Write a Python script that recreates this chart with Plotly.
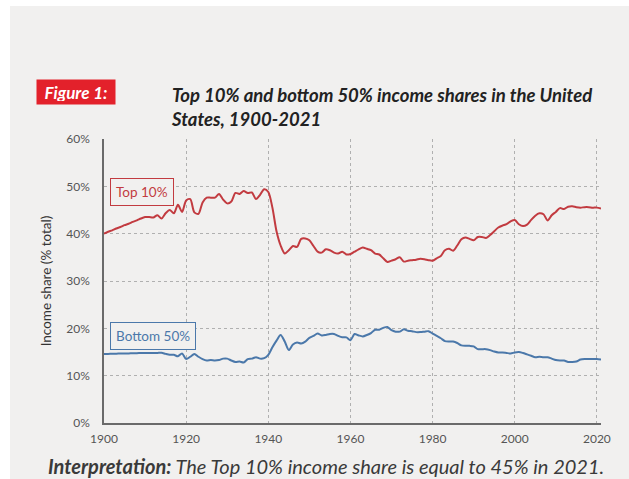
import plotly.graph_objects as go

# Income shares in the United States, 1900-2021 (% of total national income)
years = list(range(1900, 2022))

top10 = [
    40.0, 40.4, 40.7, 41.1, 41.4, 41.8, 42.1, 42.5, 42.8, 43.2,  # 1900-1909
    43.5, 43.5, 43.4, 43.9, 43.2, 44.3, 45.0, 44.3, 46.1, 44.6,  # 1910-1919
    47.0, 47.3, 44.5, 44.2, 46.6, 47.6, 47.6, 47.6, 48.4, 47.2,  # 1920-1929
    46.4, 46.8, 48.6, 48.4, 49.0, 48.6, 48.7, 47.3, 48.2, 49.4,  # 1930-1939
    48.8, 45.5, 40.5, 37.5, 35.8, 36.5, 37.4, 37.2, 38.9, 39.0,  # 1940-1949
    38.6, 37.4, 36.2, 36.0, 36.7, 36.5, 36.0, 35.8, 36.2, 35.6,  # 1950-1959
    35.7, 36.2, 36.7, 37.1, 36.8, 36.5, 35.8, 35.6, 34.8, 34.0,  # 1960-1969
    34.3, 34.6, 35.0, 34.1, 34.3, 34.4, 34.5, 34.7, 34.6, 34.4,  # 1970-1979
    34.3, 34.8, 35.3, 36.5, 36.8, 36.4, 37.5, 38.8, 39.2, 38.9,  # 1980-1989
    38.6, 39.3, 39.3, 39.1, 39.7, 40.5, 41.3, 41.7, 42.0, 42.6,  # 1990-1999
    42.9, 42.0, 41.6, 41.9, 42.9, 43.8, 44.3, 44.1, 42.8, 43.9,  # 2000-2009
    44.6, 45.4, 45.2, 45.7, 45.8, 45.6, 45.5, 45.6, 45.6, 45.5,  # 2010-2019
    45.5, 45.3,                                                  # 2020-2021
]

bottom50 = [
    14.6, 14.6, 14.65, 14.65, 14.7, 14.7, 14.7, 14.75, 14.75, 14.8,  # 1900-1909
    14.8, 14.8, 14.8, 14.8, 14.85, 14.6, 14.4, 14.4, 14.1, 14.7,     # 1910-1919
    13.5, 14.0, 14.6, 14.0, 13.5, 13.2, 13.3, 13.2, 13.3, 13.6,      # 1920-1929
    13.6, 13.2, 12.9, 13.0, 12.8, 13.5, 13.6, 13.9, 13.6, 13.7,      # 1930-1939
    14.4, 16.0, 17.4, 18.6, 17.2, 15.4, 16.6, 17.0, 16.8, 17.2,      # 1940-1949
    18.0, 18.4, 18.9, 18.5, 18.6, 18.8, 18.8, 18.4, 18.1, 18.1,      # 1950-1959
    17.5, 18.8, 18.5, 18.3, 18.6, 19.0, 19.7, 19.7, 20.1, 20.3,      # 1960-1969
    19.6, 19.3, 19.3, 19.8, 19.5, 19.4, 19.2, 19.2, 19.3, 19.4,      # 1970-1979
    18.9, 18.4, 17.9, 17.3, 17.2, 17.2, 16.9, 16.4, 16.3, 16.3,      # 1980-1989
    16.2, 15.6, 15.6, 15.6, 15.4, 15.1, 14.9, 14.9, 14.8, 14.7,      # 1990-1999
    14.9, 15.0, 14.8, 14.5, 14.2, 13.9, 14.0, 13.9, 13.9, 13.6,      # 2000-2009
    13.3, 13.2, 13.2, 12.9, 12.9, 13.0, 13.4, 13.5, 13.5, 13.5,      # 2010-2019
    13.5, 13.4,                                                      # 2020-2021
]

y_ticks = [0, 10, 20, 30, 40, 50, 60]
y_tick_labels = ["0%", "10%", "20%", "30%", "40%", "50%", "60%"]
x_ticks = [1900, 1920, 1940, 1960, 1980, 2000, 2020]

RED = "#c23b40"
BLUE = "#4b78aa"
BG = "#f1f0ef"
FONT = "Lato"

W, H = 629, 479
ML, MR, MT, MB = 104, 28, 139, 56
PW, PH = W - ML - MR, H - MT - MB


def px_x(p):
    return (p - ML) / PW


def px_y(p):
    return (H - MB - p) / PH


fig = go.Figure()

fig.add_trace(go.Scatter(
    x=years, y=top10, mode="lines", name="Top 10%",
    line=dict(color=RED, width=2, shape="spline", smoothing=0.8),
    hoverinfo="skip",
))
fig.add_trace(go.Scatter(
    x=years, y=bottom50, mode="lines", name="Bottom 50%",
    line=dict(color=BLUE, width=2, shape="spline", smoothing=0.8),
    hoverinfo="skip",
))

# Light page panel behind everything
fig.add_shape(
    type="rect", xref="paper", yref="paper", layer="below",
    x0=px_x(10), x1=px_x(W + 5), y0=px_y(H + 5), y1=px_y(6),
    fillcolor=BG, line=dict(width=0),
)

annotations = [
    # Figure tag
    dict(text="<b><i>Figure 1:</i></b>", x=px_x(76), y=px_y(92),
         font=dict(family=FONT, size=17, color="white"),
         bgcolor="#e3212b", borderpad=3, width=72, height=18),
    # Title
    dict(text="<b><i>Top 10% and bottom 50% income shares in the United<br>States, 1900-2021</i></b>",
         x=px_x(169), y=px_y(82), xanchor="left", yanchor="top", align="left",
         font=dict(family=FONT, size=18.5, color="#222222")),
    # Interpretation line
    dict(text="<b><i>Interpretation:</i></b><i> The Top 10% income share is equal to 45% in 2021.</i>",
         x=px_x(326), y=px_y(466), xanchor="center", yanchor="middle",
         font=dict(family=FONT, size=20, color="#3a3a3a")),
    # Series labels
    dict(text="Top 10%", xref="x", yref="y", x=1909.2, y=48.9,
         font=dict(family=FONT, size=13.5, color=RED),
         bordercolor=RED, borderwidth=1, borderpad=5, bgcolor=BG),
    dict(text="Bottom 50%", xref="x", yref="y", x=1912.0, y=18.4,
         font=dict(family=FONT, size=13.5, color=BLUE),
         bordercolor=BLUE, borderwidth=1, borderpad=5, bgcolor=BG),
]
for a in annotations:
    a.setdefault("xref", "paper")
    a.setdefault("yref", "paper")
    a.setdefault("showarrow", False)
    a.setdefault("xanchor", "center")
    a.setdefault("yanchor", "middle")
    fig.add_annotation(**a)

fig.update_layout(
    width=W, height=H,
    margin=dict(l=ML, r=MR, t=MT, b=MB),
    paper_bgcolor="white",
    plot_bgcolor=BG,
    showlegend=False,
    font=dict(family=FONT, color="#555555"),
)

fig.update_xaxes(
    range=[1900, 2021], tickvals=x_ticks, ticktext=[str(t) for t in x_ticks],
    showgrid=True, gridcolor="#b0b0b0", griddash="dot", gridwidth=1,
    showline=True, linecolor="#6a6a6a", linewidth=1.5,
    zeroline=False, ticks="outside", ticklen=4, tickcolor="rgba(0,0,0,0)",
    tickfont=dict(family=FONT, size=12, color="#555555"),
)
fig.update_yaxes(
    range=[0, 60], tickvals=y_ticks, ticktext=y_tick_labels,
    showgrid=True, gridcolor="#b0b0b0", griddash="dot", gridwidth=1,
    showline=True, linecolor="#6a6a6a", linewidth=1.5,
    zeroline=False, ticks="outside", ticklen=10, tickcolor="rgba(0,0,0,0)",
    tickfont=dict(family=FONT, size=12, color="#555555"),
    title=dict(text="Income share (% total)", standoff=12,
               font=dict(family=FONT, size=13.5, color="#333333")),
)

fig.write_html("out.html")
